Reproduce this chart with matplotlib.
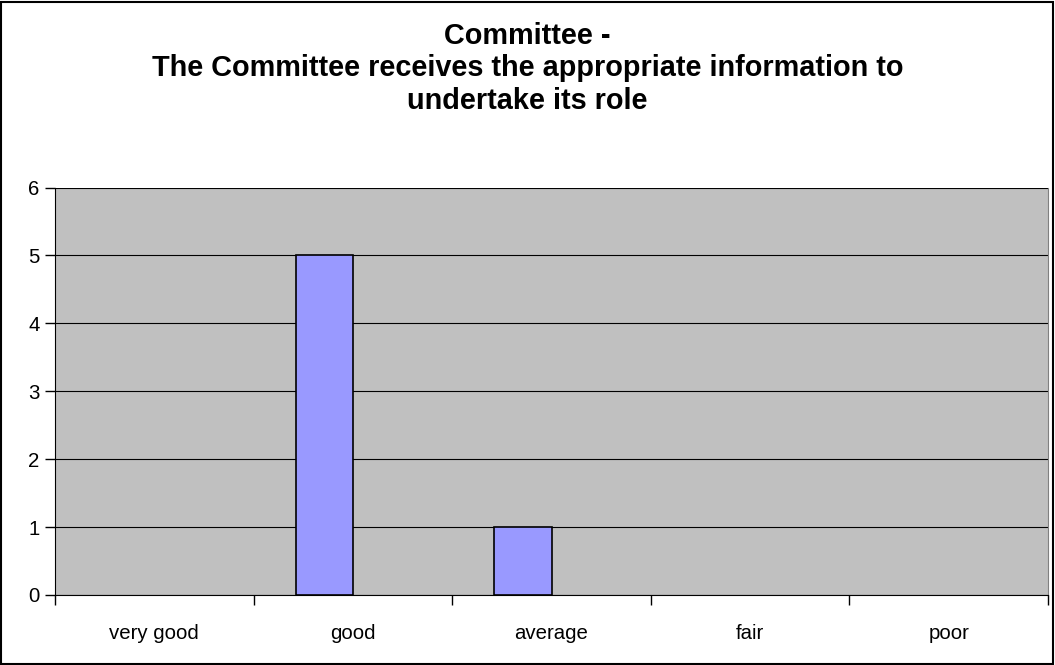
import matplotlib
matplotlib.use("Agg")
import matplotlib.pyplot as plt
import numpy as np

plt.rcParams['font.family'] = ['Liberation Sans', 'DejaVu Sans']

# responses per rating
categories = ["very good", "good", "average", "fair", "poor"]
counts = [0, 5, 1, 0, 0]
title = "Committee -\nThe Committee receives the appropriate information to\nundertake its role"

fig = plt.figure(figsize=(10.55, 6.65), dpi=100)
fig.patch.set_facecolor("white")

# black frame round the whole chart
fig.add_artist(plt.Rectangle((0.001, 0.002), 0.997, 0.995, transform=fig.transFigure,
                             fill=False, edgecolor="black", linewidth=1.5))

ax = fig.add_axes([0.0521, 0.1053, 0.9413, 0.6127])
ax.set_facecolor("#C0C0C0")

x = np.arange(len(categories))
w = 0.287
edges = ["black" if c > 0 else "none" for c in counts]
ax.bar(x - w / 2, counts, width=w, color="#9999FF", edgecolor=edges, linewidth=1.2, zorder=3)

ax.set_xlim(-0.5, len(categories) - 0.5)
ax.set_ylim(0, 6)
ax.set_yticks(range(7))
ax.yaxis.grid(True, color="black", linewidth=0.8, zorder=1)
ax.set_axisbelow(True)

ax.set_xticks(x)
ax.set_xticklabels(categories, fontsize=14.7)
ax.set_xticks(np.arange(-0.5, len(categories)), minor=True)
ax.tick_params(axis="x", which="major", length=0, pad=21)
ax.tick_params(axis="x", which="minor", length=7, color="black", width=1)
ax.tick_params(axis="y", length=7, width=1, labelsize=14.7, pad=4)

ax.spines["top"].set_visible(False)
ax.spines["left"].set_color("black")
ax.spines["bottom"].set_color("black")
ax.spines["right"].set_color("#808080")

fig.text(0.5, 0.897, title, ha="center", va="center", fontsize=20.8, fontweight="bold",
         linespacing=1.2)

fig.savefig("out.png", dpi=100)
